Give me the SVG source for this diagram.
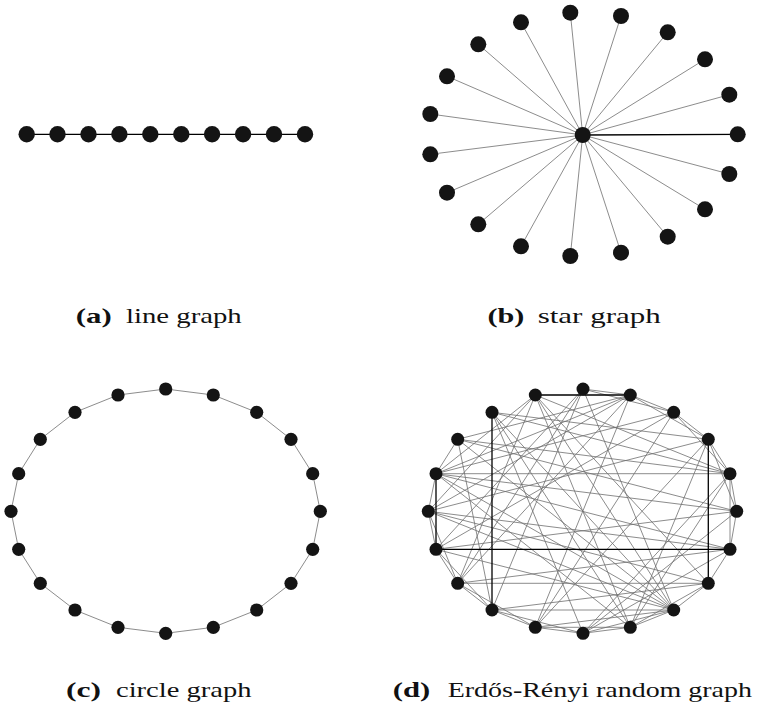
<svg xmlns="http://www.w3.org/2000/svg" width="762" height="710" viewBox="0 0 762 710">
<style>
.n{fill:#141414}
.g{stroke:#6e6e6e;stroke-width:0.8;fill:none}
.k{stroke:#000;stroke-width:1.3;fill:none}
.cap{font-family:"Liberation Serif","DejaVu Serif",serif;font-size:22px;fill:#111}
.b{font-weight:bold}
</style>
<rect width="762" height="710" fill="#fff"/>

<!-- (a) line graph -->
<g id="line-edges">
<line class="k" x1="26.7" y1="134.3" x2="305" y2="134.3"/>
</g>
<g id="a-n0"><circle class="n" cx="26.7" cy="134.3" r="8.2"/></g>
<g id="a-n1"><circle class="n" cx="57.5" cy="134.3" r="8.2"/></g>
<g id="a-n2"><circle class="n" cx="88.5" cy="134.3" r="8.2"/></g>
<g id="a-n3"><circle class="n" cx="119.4" cy="134.3" r="8.2"/></g>
<g id="a-n4"><circle class="n" cx="150.3" cy="134.3" r="8.2"/></g>
<g id="a-n5"><circle class="n" cx="181.3" cy="134.3" r="8.2"/></g>
<g id="a-n6"><circle class="n" cx="212.1" cy="134.3" r="8.2"/></g>
<g id="a-n7"><circle class="n" cx="243.1" cy="134.3" r="8.2"/></g>
<g id="a-n8"><circle class="n" cx="274" cy="134.3" r="8.2"/></g>
<g id="a-n9"><circle class="n" cx="305" cy="134.3" r="8.2"/></g>

<!-- (b) star graph -->
<g id="star-edges">
<line class="g" x1="582.7" y1="135" x2="570.3" y2="12.7"/>
<line class="g" x1="582.7" y1="135" x2="621" y2="16"/>
<line class="g" x1="582.7" y1="135" x2="667.7" y2="32.3"/>
<line class="g" x1="582.7" y1="135" x2="705" y2="59.3"/>
<line class="g" x1="582.7" y1="135" x2="729.3" y2="94.7"/>
<line class="k" x1="582.7" y1="135" x2="737.7" y2="134.3"/>
<line class="g" x1="582.7" y1="135" x2="729.3" y2="174"/>
<line class="g" x1="582.7" y1="135" x2="705" y2="209.3"/>
<line class="g" x1="582.7" y1="135" x2="667.7" y2="236.7"/>
<line class="g" x1="582.7" y1="135" x2="621" y2="252.7"/>
<line class="g" x1="582.7" y1="135" x2="570.3" y2="256"/>
<line class="g" x1="582.7" y1="135" x2="521" y2="246.3"/>
<line class="g" x1="582.7" y1="135" x2="478.3" y2="224.3"/>
<line class="g" x1="582.7" y1="135" x2="447" y2="192.7"/>
<line class="g" x1="582.7" y1="135" x2="430.3" y2="154.3"/>
<line class="g" x1="582.7" y1="135" x2="430.3" y2="114"/>
<line class="g" x1="582.7" y1="135" x2="447" y2="76.3"/>
<line class="g" x1="582.7" y1="135" x2="478.3" y2="44.3"/>
<line class="g" x1="582.7" y1="135" x2="521" y2="22.3"/>
</g>
<g id="b-c"><circle class="n" cx="582.7" cy="135" r="8"/></g>
<g id="b-n0"><circle class="n" cx="570.3" cy="12.7" r="8"/></g>
<g id="b-n1"><circle class="n" cx="621" cy="16" r="8"/></g>
<g id="b-n2"><circle class="n" cx="667.7" cy="32.3" r="8"/></g>
<g id="b-n3"><circle class="n" cx="705" cy="59.3" r="8"/></g>
<g id="b-n4"><circle class="n" cx="729.3" cy="94.7" r="8"/></g>
<g id="b-n5"><circle class="n" cx="737.7" cy="134.3" r="8"/></g>
<g id="b-n6"><circle class="n" cx="729.3" cy="174" r="8"/></g>
<g id="b-n7"><circle class="n" cx="705" cy="209.3" r="8"/></g>
<g id="b-n8"><circle class="n" cx="667.7" cy="236.7" r="8"/></g>
<g id="b-n9"><circle class="n" cx="621" cy="252.7" r="8"/></g>
<g id="b-n10"><circle class="n" cx="570.3" cy="256" r="8"/></g>
<g id="b-n11"><circle class="n" cx="521" cy="246.3" r="8"/></g>
<g id="b-n12"><circle class="n" cx="478.3" cy="224.3" r="8"/></g>
<g id="b-n13"><circle class="n" cx="447" cy="192.7" r="8"/></g>
<g id="b-n14"><circle class="n" cx="430.3" cy="154.3" r="8"/></g>
<g id="b-n15"><circle class="n" cx="430.3" cy="114" r="8"/></g>
<g id="b-n16"><circle class="n" cx="447" cy="76.3" r="8"/></g>
<g id="b-n17"><circle class="n" cx="478.3" cy="44.3" r="8"/></g>
<g id="b-n18"><circle class="n" cx="521" cy="22.3" r="8"/></g>

<!-- (c) circle graph -->
<g id="circle-edges">
<polygon class="g" points="165.7,389 213.3,395 256.7,412.3 291,439.3 312.7,473.7 320.3,511.3 312.7,549.3 291,583.3 256.7,610 213.3,627.3 165.7,633.3 118,627.3 75,610 40.3,583.3 18.7,549.3 11,511.3 18.7,473.7 40.3,439.3 75,412.3 118,395"/>
</g>
<g id="c-n0"><circle class="n" cx="165.7" cy="389" r="6.6"/></g>
<g id="c-n1"><circle class="n" cx="213.3" cy="395" r="6.6"/></g>
<g id="c-n2"><circle class="n" cx="256.7" cy="412.3" r="6.6"/></g>
<g id="c-n3"><circle class="n" cx="291" cy="439.3" r="6.6"/></g>
<g id="c-n4"><circle class="n" cx="312.7" cy="473.7" r="6.6"/></g>
<g id="c-n5"><circle class="n" cx="320.3" cy="511.3" r="6.6"/></g>
<g id="c-n6"><circle class="n" cx="312.7" cy="549.3" r="6.6"/></g>
<g id="c-n7"><circle class="n" cx="291" cy="583.3" r="6.6"/></g>
<g id="c-n8"><circle class="n" cx="256.7" cy="610" r="6.6"/></g>
<g id="c-n9"><circle class="n" cx="213.3" cy="627.3" r="6.6"/></g>
<g id="c-n10"><circle class="n" cx="165.7" cy="633.3" r="6.6"/></g>
<g id="c-n11"><circle class="n" cx="118" cy="627.3" r="6.6"/></g>
<g id="c-n12"><circle class="n" cx="75" cy="610" r="6.6"/></g>
<g id="c-n13"><circle class="n" cx="40.3" cy="583.3" r="6.6"/></g>
<g id="c-n14"><circle class="n" cx="18.7" cy="549.3" r="6.6"/></g>
<g id="c-n15"><circle class="n" cx="11" cy="511.3" r="6.6"/></g>
<g id="c-n16"><circle class="n" cx="18.7" cy="473.7" r="6.6"/></g>
<g id="c-n17"><circle class="n" cx="40.3" cy="439.3" r="6.6"/></g>
<g id="c-n18"><circle class="n" cx="75" cy="412.3" r="6.6"/></g>
<g id="c-n19"><circle class="n" cx="118" cy="395" r="6.6"/></g>

<!-- (d) Erdős-Rényi random graph -->
<g id="er-edges">
<g class="g">
<line x1="583" y1="389" x2="630.3" y2="395"/>
<line x1="583" y1="389" x2="673.7" y2="412.3"/>
<line x1="630.3" y1="395" x2="673.7" y2="412.3"/>
<line x1="673.7" y1="412.3" x2="708.3" y2="439.3"/>
<line x1="708.3" y1="439.3" x2="730" y2="473.7"/>
<line x1="730" y1="473.7" x2="736.7" y2="511.3"/>
<line x1="736.7" y1="511.3" x2="730" y2="549.3"/>
<line x1="730" y1="549.3" x2="708.3" y2="583.3"/>
<line x1="708.3" y1="583.3" x2="673.7" y2="610"/>
<line x1="673.7" y1="610" x2="630.3" y2="627.3"/>
<line x1="630.3" y1="627.3" x2="583" y2="633.3"/>
<line x1="583" y1="633.3" x2="535.3" y2="627.3"/>
<line x1="535.3" y1="627.3" x2="492" y2="610"/>
<line x1="492" y1="610" x2="457.7" y2="583.3"/>
<line x1="457.7" y1="583.3" x2="436" y2="549.3"/>
<line x1="436" y1="549.3" x2="428.3" y2="511.3"/>
<line x1="428.3" y1="511.3" x2="436" y2="473.7"/>
<line x1="436" y1="473.7" x2="457.7" y2="439.3"/>
<line x1="630.3" y1="395" x2="708.3" y2="439.3"/>
<line x1="673.7" y1="412.3" x2="730" y2="473.7"/>
<line x1="708.3" y1="439.3" x2="736.7" y2="511.3"/>
<line x1="730" y1="473.7" x2="730" y2="549.3"/>
<line x1="492" y1="610" x2="436" y2="549.3"/>
<line x1="535.3" y1="627.3" x2="457.7" y2="583.3"/>
<line x1="457.7" y1="583.3" x2="428.3" y2="511.3"/>
<line x1="583" y1="633.3" x2="492" y2="610"/>
<line x1="630.3" y1="627.3" x2="535.3" y2="627.3"/>
<line x1="673.7" y1="610" x2="583" y2="633.3"/>
<line x1="708.3" y1="583.3" x2="630.3" y2="627.3"/>
<line x1="436" y1="473.7" x2="730" y2="473.7"/>
<line x1="436" y1="473.7" x2="736.7" y2="511.3"/>
<line x1="436" y1="473.7" x2="730" y2="549.3"/>
<line x1="436" y1="473.7" x2="673.7" y2="610"/>
<line x1="436" y1="473.7" x2="630.3" y2="627.3"/>
<line x1="436" y1="473.7" x2="630.3" y2="395"/>
<line x1="436" y1="473.7" x2="535.3" y2="395"/>
<line x1="436" y1="473.7" x2="673.7" y2="412.3"/>
<line x1="457.7" y1="439.3" x2="730" y2="473.7"/>
<line x1="457.7" y1="439.3" x2="736.7" y2="511.3"/>
<line x1="457.7" y1="439.3" x2="673.7" y2="610"/>
<line x1="457.7" y1="439.3" x2="630.3" y2="395"/>
<line x1="457.7" y1="439.3" x2="492" y2="610"/>
<line x1="492" y1="412.3" x2="708.3" y2="439.3"/>
<line x1="492" y1="412.3" x2="730" y2="473.7"/>
<line x1="492" y1="412.3" x2="630.3" y2="627.3"/>
<line x1="492" y1="412.3" x2="583" y2="633.3"/>
<line x1="492" y1="412.3" x2="673.7" y2="610"/>
<line x1="535.3" y1="395" x2="673.7" y2="610"/>
<line x1="535.3" y1="395" x2="630.3" y2="627.3"/>
<line x1="535.3" y1="395" x2="708.3" y2="583.3"/>
<line x1="535.3" y1="395" x2="730" y2="473.7"/>
<line x1="535.3" y1="395" x2="457.7" y2="583.3"/>
<line x1="535.3" y1="395" x2="428.3" y2="511.3"/>
<line x1="428.3" y1="511.3" x2="730" y2="549.3"/>
<line x1="428.3" y1="511.3" x2="708.3" y2="583.3"/>
<line x1="428.3" y1="511.3" x2="673.7" y2="610"/>
<line x1="428.3" y1="511.3" x2="630.3" y2="395"/>
<line x1="428.3" y1="511.3" x2="708.3" y2="439.3"/>
<line x1="436" y1="549.3" x2="736.7" y2="511.3"/>
<line x1="436" y1="549.3" x2="673.7" y2="412.3"/>
<line x1="436" y1="549.3" x2="583" y2="389"/>
<line x1="436" y1="549.3" x2="673.7" y2="610"/>
<line x1="457.7" y1="583.3" x2="730" y2="549.3"/>
<line x1="457.7" y1="583.3" x2="708.3" y2="583.3"/>
<line x1="457.7" y1="583.3" x2="583" y2="389"/>
<line x1="457.7" y1="583.3" x2="630.3" y2="395"/>
<line x1="492" y1="610" x2="708.3" y2="583.3"/>
<line x1="492" y1="610" x2="673.7" y2="610"/>
<line x1="492" y1="610" x2="583" y2="389"/>
<line x1="535.3" y1="627.3" x2="673.7" y2="412.3"/>
<line x1="535.3" y1="627.3" x2="708.3" y2="439.3"/>
<line x1="535.3" y1="627.3" x2="673.7" y2="610"/>
<line x1="535.3" y1="627.3" x2="630.3" y2="395"/>
<line x1="583" y1="633.3" x2="730" y2="473.7"/>
<line x1="583" y1="633.3" x2="730" y2="549.3"/>
<line x1="583" y1="633.3" x2="736.7" y2="511.3"/>
<line x1="630.3" y1="627.3" x2="708.3" y2="439.3"/>
<line x1="630.3" y1="627.3" x2="730" y2="473.7"/>
<line x1="583" y1="389" x2="673.7" y2="610"/>
</g>
<g class="k">
<line x1="535.3" y1="395" x2="630.3" y2="395"/>
<line x1="492" y1="412.3" x2="492" y2="610"/>
<line x1="436" y1="473.7" x2="436" y2="549.3"/>
<line x1="436" y1="549.3" x2="730" y2="549.3"/>
<line x1="708.3" y1="439.3" x2="708.3" y2="583.3"/>
</g>
</g>
<g id="d-n0"><circle class="n" cx="583" cy="389" r="6.5"/></g>
<g id="d-n1"><circle class="n" cx="630.3" cy="395" r="6.5"/></g>
<g id="d-n2"><circle class="n" cx="673.7" cy="412.3" r="6.5"/></g>
<g id="d-n3"><circle class="n" cx="708.3" cy="439.3" r="6.5"/></g>
<g id="d-n4"><circle class="n" cx="730" cy="473.7" r="6.5"/></g>
<g id="d-n5"><circle class="n" cx="736.7" cy="511.3" r="6.5"/></g>
<g id="d-n6"><circle class="n" cx="730" cy="549.3" r="6.5"/></g>
<g id="d-n7"><circle class="n" cx="708.3" cy="583.3" r="6.5"/></g>
<g id="d-n8"><circle class="n" cx="673.7" cy="610" r="6.5"/></g>
<g id="d-n9"><circle class="n" cx="630.3" cy="627.3" r="6.5"/></g>
<g id="d-n10"><circle class="n" cx="583" cy="633.3" r="6.5"/></g>
<g id="d-n11"><circle class="n" cx="535.3" cy="627.3" r="6.5"/></g>
<g id="d-n12"><circle class="n" cx="492" cy="610" r="6.5"/></g>
<g id="d-n13"><circle class="n" cx="457.7" cy="583.3" r="6.5"/></g>
<g id="d-n14"><circle class="n" cx="436" cy="549.3" r="6.5"/></g>
<g id="d-n15"><circle class="n" cx="428.3" cy="511.3" r="6.5"/></g>
<g id="d-n16"><circle class="n" cx="436" cy="473.7" r="6.5"/></g>
<g id="d-n17"><circle class="n" cx="457.7" cy="439.3" r="6.5"/></g>
<g id="d-n18"><circle class="n" cx="492" cy="412.3" r="6.5"/></g>
<g id="d-n19"><circle class="n" cx="535.3" cy="395" r="6.5"/></g>

<!-- captions -->
<g id="captions">
<text class="cap b" x="75.7" y="322.7" textLength="36" lengthAdjust="spacingAndGlyphs">(a)</text>
<text class="cap" x="126" y="322.7" textLength="115.7" lengthAdjust="spacingAndGlyphs">line graph</text>
<text class="cap b" x="487.4" y="322.7" textLength="37" lengthAdjust="spacingAndGlyphs">(b)</text>
<text class="cap" x="537.7" y="322.7" textLength="123" lengthAdjust="spacingAndGlyphs">star graph</text>
<text class="cap b" x="66" y="697" textLength="35" lengthAdjust="spacingAndGlyphs">(c)</text>
<text class="cap" x="116" y="697" textLength="135.4" lengthAdjust="spacingAndGlyphs">circle graph</text>
<text class="cap b" x="392.7" y="697" textLength="37.5" lengthAdjust="spacingAndGlyphs">(d)</text>
<text class="cap" x="447.7" y="697" textLength="304.3" lengthAdjust="spacingAndGlyphs">Erdős-Rényi random graph</text>
</g>
</svg>
